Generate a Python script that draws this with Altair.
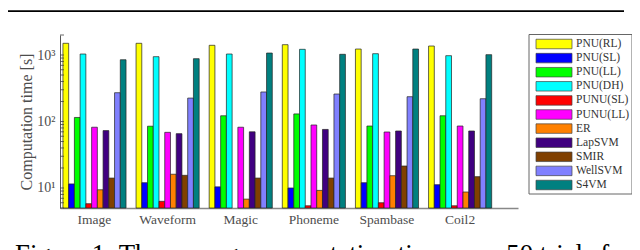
import altair as alt
import pandas as pd

datasets = ["Image", "Waveform", "Magic", "Phoneme", "Spambase", "Coil2"]
methods = ["PNU(RL)", "PNU(SL)", "PNU(LL)", "PNU(DH)", "PUNU(SL)", "PUNU(LL)",
           "ER", "LapSVM", "SMIR", "WellSVM", "S4VM"]
colors = ["#ffff00", "#0000ff", "#00ff00", "#00ffff", "#ff0000", "#ff00ff",
          "#ff8000", "#400080", "#804000", "#8080ff", "#008080"]

# computation time [s], one list per method, in dataset order
pnu_rl = [1500, 1500, 1400, 1430, 1230, 1365]
pnu_sl = [11.5, 12.0, 10.4, 10.0, 12.0, 11.2]
pnu_ll = [115, 85, 122, 130, 85.5, 122]
pnu_dh = [1035, 944, 1035, 1218, 1047, 977]
punu_sl = [5.8, 6.3, None, 5.4, 6.0, 5.4]
punu_ll = [82, 68.7, 82, 88.6, 69.5, 85.5]
er = [9.4, 16.1, 6.8, 9.2, 15.3, 8.7]
lapsvm = [73, 65.6, 70, 76, 72, 72]
smir = [14.1, 15.5, 14.1, 14.1, 21.4, 14.8]
wellsvm = [271, 225, 278, 259, 236, 220]
s4vm = [849, 881, 1071, 1025, 1230, 1012]

y_tick_values = [5, 6, 7, 8, 9, 10, 20, 30, 40, 50, 60, 70, 80, 90,
                 100, 200, 300, 400, 500, 600, 700, 800, 900, 1000, 2000]
y_label_values = [10, 100, 1000]
caption = "Figure 1: The average computation time over 50 trials f"

series = [pnu_rl, pnu_sl, pnu_ll, pnu_dh, punu_sl, punu_ll, er, lapsvm, smir, wellsvm, s4vm]
rows = []
for m, vals in zip(methods, series):
    for d, v in zip(datasets, vals):
        rows.append({"dataset": d, "method": m, "time": v})
df = pd.DataFrame(rows)

FONT = "Liberation Serif"
W, H = 458, 173

yscale = alt.Scale(type="log", domain=[5, 2000], nice=False)
color = alt.Color("method:N", scale=alt.Scale(domain=methods, range=colors), legend=None)

bars = alt.Chart(df).mark_bar(stroke="#222", strokeWidth=0.7).encode(
    x=alt.X("dataset:N", sort=datasets,
            scale=alt.Scale(domain=datasets, paddingInner=0.137, paddingOuter=0.2, align=0.1),
            axis=alt.Axis(title=None, labelAngle=0, ticks=False, labelPadding=4,
                          labelFontSize=13.5, labelColor="#4d4d4d", labelFont=FONT,
                          domainColor="#888", domainWidth=1.5)),
    xOffset=alt.XOffset("method:N", sort=methods,
                        scale=alt.Scale(domain=methods, paddingInner=0, paddingOuter=0)),
    y=alt.Y("time:Q", scale=yscale, stack=None,
            axis=alt.Axis(values=y_label_values,
                          labelExpr="datum.value == 10 ? '10¹' : datum.value == 100 ? '10²' : '10³'",
                          ticks=False, grid=False, domainColor="#555", domainWidth=1,
                          labelPadding=5, labelFontSize=14, labelColor="#4d4d4d", labelFont=FONT,
                          title="Computation time [s]", titleFont=FONT, titleFontSize=16,
                          titleFontWeight="normal", titleColor="#4d4d4d",
                          titleX=-29, titleY=H / 2, titleBaseline="alphabetic",
                          titleAlign="center")),
    y2=alt.value(H),
    color=color,
)

ticks = alt.Chart(pd.DataFrame({"t": y_tick_values})).mark_rule(
    color="#444", strokeWidth=0.8).encode(
    x=alt.value(0), x2=alt.value(4),
    y=alt.Y("t:Q", scale=yscale, axis=None),
)

top_line = alt.Chart(pd.DataFrame({"a": [0]})).mark_rule(
    color="black", strokeWidth=1.8).encode(
    x=alt.value(-52), x2=alt.value(564), y=alt.value(-23.8),
)

cap = alt.Chart(pd.DataFrame({"caption": [caption]})).mark_text(
    align="left", baseline="alphabetic", fontSize=26.8, font=FONT, color="black").encode(
    x=alt.value(-45), y=alt.value(227.5), text="caption:N",
)

legend_scale = alt.Scale(domain=methods, range=[1.95, 157.05], paddingInner=0.326, paddingOuter=0.163)
leg_df = pd.DataFrame({"method": methods})

box = alt.Chart(pd.DataFrame({"a": [0]})).mark_rect(
    fill="white", stroke="#666", strokeWidth=1).encode(
    x=alt.value(469), x2=alt.value(572), y=alt.value(-0.5), y2=alt.value(159),
)

swatch = alt.Chart(leg_df).mark_rect(stroke="#444", strokeWidth=0.7).encode(
    x=alt.value(476), x2=alt.value(512),
    y=alt.Y("method:N", sort=methods, scale=legend_scale, axis=None),
    color=color,
)

labels = alt.Chart(leg_df).mark_text(
    align="left", baseline="middle", font=FONT, fontSize=11.5, color="#333").encode(
    x=alt.value(516),
    y=alt.Y("method:N", sort=methods, scale=legend_scale, axis=None),
    text="method:N",
)

chart = alt.layer(bars, ticks, top_line, cap, box, swatch, labels).resolve_scale(
    y="independent"
).properties(
    width=W, height=H,
    autosize=alt.AutoSizeParams(type="none"),
    padding={"left": 52, "top": 27, "right": 114, "bottom": 42},
).configure_view(stroke=None).configure_text(font=FONT)

chart.save("out.html", embed_options={"renderer": "svg", "actions": False})
